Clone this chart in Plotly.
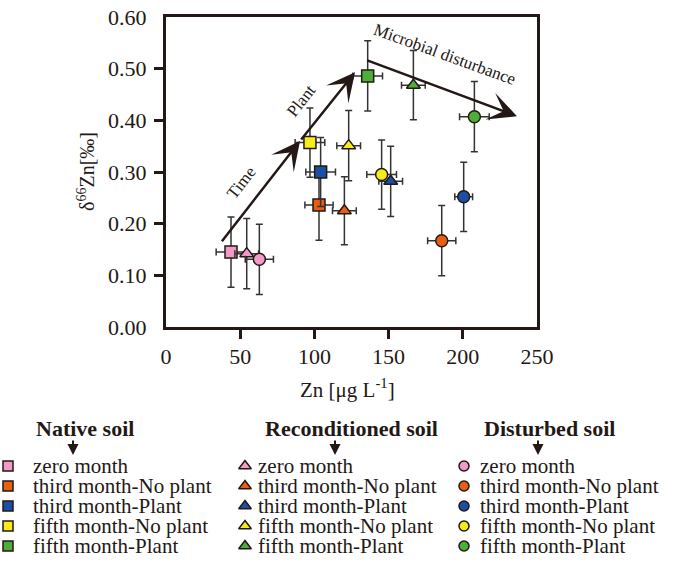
import plotly.graph_objects as go

# ---------------- data ----------------
stages = ["zero month", "third month-No plant", "third month-Plant",
          "fifth month-No plant", "fifth month-Plant"]
stage_colors = ["#f39bc8", "#e95f12", "#1b4fa3", "#f7ec1a", "#4caf38"]

groups = ["Native soil", "Reconditioned soil", "Disturbed soil"]
group_symbols = ["square", "triangle-up", "circle"]

native_x = [43.8, 103.1, 104.2, 97.0, 135.9]
native_y = [0.145, 0.236, 0.300, 0.357, 0.486]
native_ex = [10, 9.5, 10, 10, 10]
native_ey = [0.068, 0.068, 0.067, 0.067, 0.068]

recon_x = [54.4, 120.2, 151.4, 123.1, 166.7]
recon_y = [0.142, 0.225, 0.282, 0.351, 0.468]
recon_ex = [8, 8, 8, 8, 8]
recon_ey = [0.068, 0.066, 0.068, 0.068, 0.067]

dist_x = [62.9, 185.8, 200.6, 145.3, 207.8]
dist_y = [0.131, 0.167, 0.252, 0.295, 0.407]
dist_ex = [9.5, 9.5, 6, 10, 10]
dist_ey = [0.068, 0.068, 0.067, 0.067, 0.068]

x_ticks = [0, 50, 100, 150, 200, 250]
y_ticks = [0.0, 0.1, 0.2, 0.3, 0.4, 0.5, 0.6]

# trend arrows (tail -> tip) in data units
time_arrow = [(36.9, 0.163), (90.3, 0.360)]
plant_arrow = [(90.3, 0.360), (127.4, 0.493)]
micro_arrow = [(134.6, 0.517), (236.5, 0.408)]

# ---------------- layout constants ----------------
W, H = 681, 586
X0, X1, Y0, Y1 = 166, 537, 17, 327   # plot frame in page pixels
INK = "#231815"
FONT = "Liberation Serif, Times New Roman, serif"


def page(px, py):
    return px / W, 1 - py / H


fig = go.Figure()

series = [(native_x, native_y, native_ex, native_ey),
          (recon_x, recon_y, recon_ex, recon_ey),
          (dist_x, dist_y, dist_ex, dist_ey)]
sizes = [12, 12, 12]

for gi, (xs, ys, exs, eys) in enumerate(series):
    for si in range(len(stages)):
        fig.add_trace(go.Scatter(
            x=[xs[si]], y=[ys[si]], mode="markers",
            name=f"{groups[gi]} - {stages[si]}",
            marker=dict(symbol=group_symbols[gi], size=sizes[gi],
                        color=stage_colors[si], line=dict(color=INK, width=1.5)),
            error_x=dict(type="data", array=[exs[si]], color="#333333", thickness=1.5, width=3.5),
            error_y=dict(type="data", array=[eys[si]], color="#333333", thickness=1.5, width=3.5),
            showlegend=False, cliponaxis=False,
        ))

# ---------------- custom legend (page-pixel axes x2/y2) ----------------
col_marker_px = [8, 245, 464]
col_text_px = [31, 256, 478]
header_center_px = [85, 351, 549]
arrow_px = [73, 335, 538]
row_py = [466, 486, 506, 526, 546]
header_py = 428
legend_sizes = [10, 11, 10]

annotations = []
for gi in range(3):
    fig.add_trace(go.Scatter(
        x=[col_marker_px[gi]] * len(stages), y=row_py, mode="markers",
        xaxis="x2", yaxis="y2",
        marker=dict(symbol=group_symbols[gi], size=legend_sizes[gi], color=stage_colors,
                    line=dict(color=INK, width=1.5)),
        showlegend=False, cliponaxis=False, hoverinfo="skip"))
    for si in range(len(stages)):
        tx, ty = page(col_text_px[gi], row_py[si])
        annotations.append(dict(x=tx, y=ty, xref="paper", yref="paper", text=stages[si],
                                showarrow=False, xanchor="left", yanchor="middle",
                                font=dict(family=FONT, size=21, color=INK)))
    hx, hy = page(header_center_px[gi], header_py)
    annotations.append(dict(x=hx, y=hy, xref="paper", yref="paper",
                            text=f"<b>{groups[gi]}</b>", showarrow=False,
                            xanchor="center", yanchor="middle",
                            font=dict(family=FONT, size=22, color=INK)))
    ax_, ay_ = page(arrow_px[gi], 455)
    annotations.append(dict(x=ax_, y=ay_, xref="paper", yref="paper", text="",
                            showarrow=True, ax=0, ay=-16, arrowhead=2, arrowsize=1.1,
                            arrowwidth=2, arrowcolor=INK, standoff=0))

# ---------------- trend arrows and labels ----------------
for (tail, tip) in [time_arrow, plant_arrow, micro_arrow]:
    annotations.append(dict(x=tip[0], y=tip[1], ax=tail[0], ay=tail[1],
                            xref="x", yref="y", axref="x", ayref="y", text="",
                            showarrow=True, arrowhead=3, arrowsize=1.9, arrowwidth=2.5,
                            arrowcolor=INK, standoff=0))

annotations += [
    dict(x=51, y=0.279, xref="x", yref="y", text="Time", showarrow=False, textangle=-52,
         font=dict(family=FONT, size=17, color=INK)),
    dict(x=91.4, y=0.4375, xref="x", yref="y", text="Plant", showarrow=False, textangle=-52,
         font=dict(family=FONT, size=17, color=INK)),
    dict(x=188, y=0.528, xref="x", yref="y", text="Microbial disturbance", showarrow=False,
         textangle=20, font=dict(family=FONT, size=17, color=INK)),
]

# axis titles
yx, yy = page(86, 172)
annotations.append(dict(x=yx, y=yy, xref="paper", yref="paper", text="δ<sup>66</sup>Zn[‰]",
                        showarrow=False, textangle=-90, xanchor="center", yanchor="middle",
                        font=dict(family=FONT, size=20, color=INK)))
xx, xy = page(347, 388)
annotations.append(dict(x=xx, y=xy, xref="paper", yref="paper", text="Zn [μg L<sup>-1</sup>]",
                        showarrow=False, xanchor="center", yanchor="middle",
                        font=dict(family=FONT, size=21, color=INK)))

axis_common = dict(showgrid=False, zeroline=False, showline=True, mirror=True,
                   linewidth=3, linecolor=INK, ticks="outside", ticklen=0,
                   tickcolor="rgba(0,0,0,0)",
                   tickfont=dict(family=FONT, size=22, color=INK))

fig.update_layout(
    width=W, height=H, margin=dict(l=0, r=0, t=0, b=0, pad=0, autoexpand=False),
    paper_bgcolor="white", plot_bgcolor="rgba(0,0,0,0)",
    xaxis=dict(domain=[X0 / W, X1 / W], range=[0, 250], tickmode="array", tickvals=x_ticks,
               ticktext=[str(v) for v in x_ticks], ticklabelstandoff=8,
               minor=dict(tickmode="array", tickvals=x_ticks[1:-1], ticks="outside",
                          ticklen=9, tickwidth=3, tickcolor=INK, showgrid=False),
               **axis_common),
    yaxis=dict(domain=[1 - Y1 / H, 1 - Y0 / H], range=[0, 0.6], tickmode="array",
               tickvals=y_ticks, ticktext=[f"{v:.2f}" for v in y_ticks], ticklabelstandoff=12,
               minor=dict(tickmode="array", tickvals=y_ticks[1:-1], ticks="outside",
                          ticklen=9, tickwidth=3, tickcolor=INK, showgrid=False),
               **axis_common),
    xaxis2=dict(domain=[0, 1], range=[0, W], anchor="y2", visible=False, fixedrange=True),
    yaxis2=dict(domain=[0, 1], range=[H, 0], anchor="x2", visible=False, fixedrange=True),
    annotations=annotations,
    showlegend=False,
)

fig.write_html("out.html", config={"displayModeBar": False},
               post_script="document.body.style.margin='0px';document.body.style.overflow='hidden';")
